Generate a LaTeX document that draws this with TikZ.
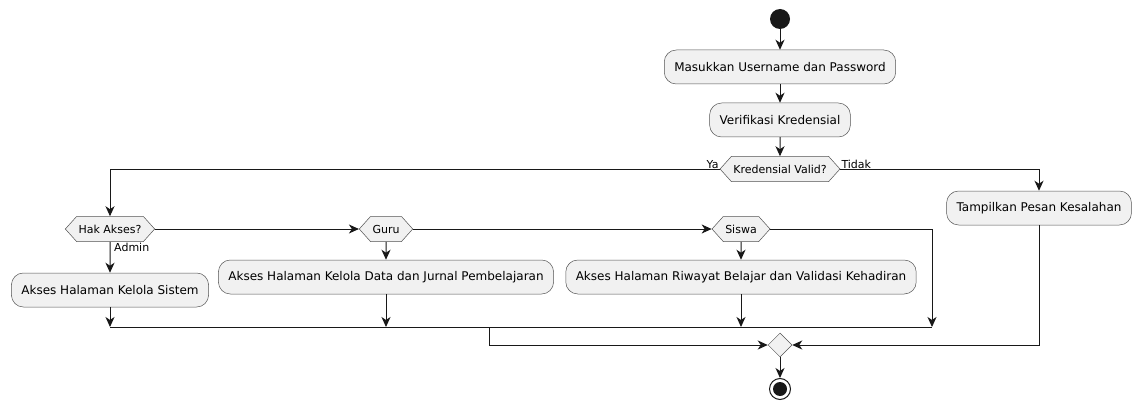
\documentclass[tikz,border=0pt]{standalone}
\usepackage{fontspec}
\setmainfont{DejaVu Sans}
\usetikzlibrary{positioning,shapes.geometric,shapes.symbols,arrows.meta}

\definecolor{umlfill}{HTML}{F1F1F1}
\definecolor{umlline}{HTML}{181818}

\tikzstyle{actbox} = [draw=umlline!75, fill=umlfill, line width=0.5pt,
    rectangle, rounded corners=12pt, minimum height=34pt, inner xsep=10pt,
    font=\fontsize{12}{14}\selectfont]
\tikzstyle{choice} = [draw=umlline!75, fill=umlfill, line width=0.5pt,
    signal, signal to=west and east, signal from=nowhere, signal pointer angle=96,
    minimum height=25pt, inner xsep=2pt, font=\fontsize{11}{13}\selectfont]
\tikzstyle{flow} = [draw=umlline, line width=1pt,
    -{Stealth[length=10pt, width=9pt, inset=3pt]}]
\tikzstyle{guard} = [font=\fontsize{11}{13}\selectfont, inner sep=1pt]

\begin{document}
\begin{tikzpicture}[x=1pt, y=-1pt]
    \useasboundingbox (0,0) rectangle (1143,409);
%------------ Login ---------------------
    \node [circle, fill=umlline, minimum size=20pt, inner sep=0pt] (start) at (780,19) {};
    \node [actbox] (masuk) at (780,67) {Masukkan Username dan Password};
    \node [actbox] (verif) at (780,120) {Verifikasi Kredensial};
    \node [choice] (valid) at (780,169) {Kredensial Valid?};
    \node [actbox] (tampil) at (1039,208) {Tampilkan Pesan Kesalahan};
%------------ Hak Akses ---------------------
    \node [choice] (hak) at (110,229) {Hak Akses?};
    \node [choice] (guru) at (386,229) {Guru};
    \node [choice] (siswa) at (741,229) {Siswa};
    \node [actbox] (admbox) at (110,290) {Akses Halaman Kelola Sistem};
    \node [actbox] (gurubox) at (386,277) {Akses Halaman Kelola Data dan Jurnal Pembelajaran};
    \node [actbox] (siswabox) at (741,277) {Akses Halaman Riwayat Belajar dan Validasi Kehadiran};
%------------ Ende ---------------------
    \coordinate (joinadm) at (110,327);
    \coordinate (joinguru) at (386,327);
    \coordinate (joinsiswa) at (741,327);
    \coordinate (joinend) at (932,327);
    \coordinate (joinout) at (489,327);
    \node [diamond, draw=umlline!75, fill=umlfill, line width=0.5pt,
        minimum size=24pt, inner sep=0pt] (merge) at (780,345) {};
    \node [circle, draw=umlline, fill=white, line width=1pt, minimum size=21pt,
        inner sep=0pt] (stop) at (780,389) {};
    \fill [umlline] (stop) circle (7pt);
%------------ Pfeile ---------------------
    \draw [flow] (start) -- (masuk);
    \draw [flow] (masuk) -- (verif);
    \draw [flow] (verif) -- (valid);
    \draw [flow] (valid.west) -| (hak.north);
    \draw [flow] (valid.east) -| (tampil.north);
    \node [guard, anchor=south east] at ([yshift=-1pt]valid.west) {Ya};
    \node [guard, anchor=south west] at ([yshift=-1pt]valid.east) {Tidak};
    \draw [flow] (hak.east) -- (guru.west);
    \draw [flow] (guru.east) -- (siswa.west);
    \draw [flow] (hak) -- (admbox);
    \node [guard, anchor=north west] at ([xshift=3pt]hak.south) {Admin};
    \draw [flow] (guru) -- (gurubox);
    \draw [flow] (siswa) -- (siswabox);
    \draw [flow] (admbox) -- (joinadm);
    \draw [flow] (gurubox) -- (joinguru);
    \draw [flow] (siswabox) -- (joinsiswa);
    \draw [flow] (siswa.east) -| (joinend);
    \draw [umlline, line width=1pt] (joinadm) -- (joinend);
    \draw [flow] (joinout) |- (merge.west);
    \draw [flow] (tampil.south) |- (merge.east);
    \draw [flow] (merge) -- (stop);
\end{tikzpicture}
\end{document}
